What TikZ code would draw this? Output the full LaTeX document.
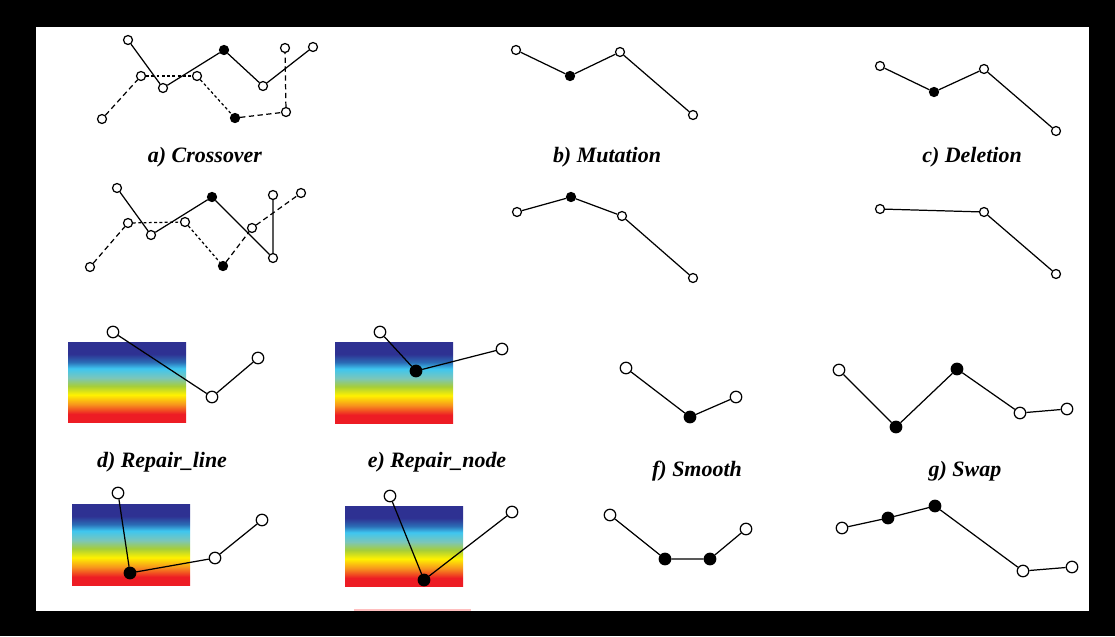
\documentclass[tikz,border=0pt]{standalone}
\usepackage{fontspec}
\setmainfont{Liberation Serif}
\definecolor{rbred}{HTML}{ED1C24}
\definecolor{rborange}{HTML}{F7941D}
\definecolor{rbyellow}{HTML}{FFF200}
\definecolor{rbgreen}{HTML}{A6CE39}
\definecolor{rbteal}{HTML}{7CC6B8}
\definecolor{rbcyan}{HTML}{3EC6F0}
\definecolor{rbblue}{HTML}{2B6CB5}
\definecolor{rbdark}{HTML}{2E3192}
\pgfdeclareverticalshading{rainbowsh}{100bp}{color(0bp)=(rbred); color(30bp)=(rbred); color(36bp)=(rborange); color(42bp)=(rbyellow); color(47.5bp)=(rbgreen); color(52.5bp)=(rbteal); color(58.5bp)=(rbcyan); color(62.5bp)=(rbblue); color(67.5bp)=(rbdark); color(100bp)=(rbdark)}
\tikzset{
  dotO/.style={circle, draw=black, fill=white, line width=0.7pt, inner sep=0pt, minimum size=0.18cm},
  dotF/.style={dotO, fill=black},
  bigO/.style={dotO, minimum size=0.23cm},
  bigF/.style={bigO, fill=black},
  seg/.style={draw=black, line width=0.7pt},
  dashl/.style={seg, dash pattern=on 3pt off 2pt},
  dashs/.style={seg, dash pattern=on 1.6pt off 1.4pt},
  lab/.style={anchor=base, font=\fontsize{12.5}{15}\selectfont\bfseries\itshape},
  rainbow/.style={shading=rainbowsh}
}
\begin{document}
\begin{tikzpicture}[x=0.02cm, y=-0.02cm]
% frame
\fill[black] (0,0) rectangle (1115,636);
\fill[white] (36,27) rectangle (1089,611);
\fill[red!25] (354,609) rectangle (471,611);

% ---------- a) Crossover (top)
\node[dotO] (a1) at (128,40) {};
\node[dotO] (a2) at (163,88) {};
\node[dotF] (a3) at (224,50) {};
\node[dotO] (a4) at (263,86) {};
\node[dotO] (a5) at (313,47) {};
\node[dotO] (a6) at (102,119) {};
\node[dotO] (a7) at (141,76) {};
\node[dotO] (a8) at (197,76) {};
\node[dotF] (a9) at (235,118) {};
\node[dotO] (a10) at (286,112) {};
\node[dotO] (a11) at (285,48) {};
\draw[seg] (a1) -- (a2) -- (a3) -- (a4) -- (a5);
\draw[dashl] (a6) -- (a7);
\draw[dashs] (a7) -- (a8);
\draw[dashs] (a8) -- (a9);
\draw[dashl] (a9) -- (a10);
\draw[dashl] (a10) -- (a11);
\node[lab] (la) at (205,162) {a) Crossover};
% ---------- a) Crossover (bottom)
\node[dotO] (A1) at (117,188) {};
\node[dotO] (A2) at (151,235) {};
\node[dotF] (A3) at (212,197) {};
\node[dotO] (A4) at (273,258) {};
\node[dotO] (A5) at (273,195) {};
\node[dotO] (A6) at (90,267) {};
\node[dotO] (A7) at (128,223) {};
\node[dotO] (A8) at (185,222) {};
\node[dotF] (A9) at (223,266) {};
\node[dotO] (A10) at (252,228) {};
\node[dotO] (A11) at (301,193) {};
\draw[seg] (A1) -- (A2) -- (A3) -- (A4) -- (A5);
\draw[dashl] (A6) -- (A7);
\draw[dashs] (A7) -- (A8);
\draw[dashs] (A8) -- (A9);
\draw[dashl] (A9) -- (A10);
\draw[dashl] (A10) -- (A11);

% ---------- b) Mutation
\node[dotO] (b1) at (516,50) {};
\node[dotF] (b2) at (570,76) {};
\node[dotO] (b3) at (620,52) {};
\node[dotO] (b4) at (693,115) {};
\draw[seg] (b1) -- (b2) -- (b3) -- (b4);
\node[lab] (lb) at (607,162) {b) Mutation};
\node[dotO] (B1) at (517,212) {};
\node[dotF] (B2) at (571,197) {};
\node[dotO] (B3) at (622,216) {};
\node[dotO] (B4) at (693,278) {};
\draw[seg] (B1) -- (B2) -- (B3) -- (B4);

% ---------- c) Deletion
\node[dotO] (c1) at (880,66) {};
\node[dotF] (c2) at (934,92) {};
\node[dotO] (c3) at (984,69) {};
\node[dotO] (c4) at (1056,131) {};
\draw[seg] (c1) -- (c2) -- (c3) -- (c4);
\node[lab] (lc) at (972,162) {c) Deletion};
\node[dotO] (C1) at (880,209) {};
\node[dotO] (C3) at (984,212) {};
\node[dotO] (C4) at (1056,274) {};
\draw[seg] (C1) -- (C3) -- (C4);

% ---------- d) Repair_line
\shade[rainbow] (68,342) rectangle (186,422);
\node[bigO] (d1) at (113,332) {};
\node[bigO] (d2) at (212,397) {};
\node[bigO] (d3) at (258,358) {};
\draw[seg] (d1) -- (d2) -- (d3);
\node[lab] (ld) at (162,467) {d) Repair\_line};
\shade[rainbow] (72,504) rectangle (190,585);
\node[bigO] (D1) at (118,493) {};
\node[bigF] (D2) at (130,573) {};
\node[bigO] (D3) at (215,558) {};
\node[bigO] (D4) at (262,520) {};
\draw[seg] (D1) -- (D2) -- (D3) -- (D4);

% ---------- e) Repair_node
\shade[rainbow] (335,342) rectangle (453,423);
\node[bigO] (e1) at (380,332) {};
\node[bigF] (e2) at (416,371) {};
\node[bigO] (e3) at (502,349) {};
\draw[seg] (e1) -- (e2) -- (e3);
\node[lab] (le) at (437,467) {e) Repair\_node};
\shade[rainbow] (345,506) rectangle (463,586);
\node[bigO] (E1) at (390,496) {};
\node[bigF] (E2) at (424,580) {};
\node[bigO] (E3) at (512,512) {};
\draw[seg] (E1) -- (E2) -- (E3);

% ---------- f) Smooth
\node[bigO] (f1) at (626,368) {};
\node[bigF] (f2) at (690,417) {};
\node[bigO] (f3) at (736,397) {};
\draw[seg] (f1) -- (f2) -- (f3);
\node[lab] (lf) at (697,476) {f) Smooth};
\node[bigO] (F1) at (610,515) {};
\node[bigF] (F2) at (665,559) {};
\node[bigF] (F3) at (710,559) {};
\node[bigO] (F4) at (746,529) {};
\draw[seg] (F1) -- (F2) -- (F3) -- (F4);

% ---------- g) Swap
\node[bigO] (g1) at (839,370) {};
\node[bigF] (g2) at (896,427) {};
\node[bigF] (g3) at (957,369) {};
\node[bigO] (g4) at (1020,413) {};
\node[bigO] (g5) at (1067,409) {};
\draw[seg] (g1) -- (g2) -- (g3) -- (g4) -- (g5);
\node[lab] (lg) at (965,476) {g) Swap};
\node[bigO] (G1) at (842,528) {};
\node[bigF] (G2) at (888,518) {};
\node[bigF] (G3) at (935,506) {};
\node[bigO] (G4) at (1023,571) {};
\node[bigO] (G5) at (1072,567) {};
\draw[seg] (G1) -- (G2) -- (G3) -- (G4) -- (G5);
\end{tikzpicture}
\end{document}
